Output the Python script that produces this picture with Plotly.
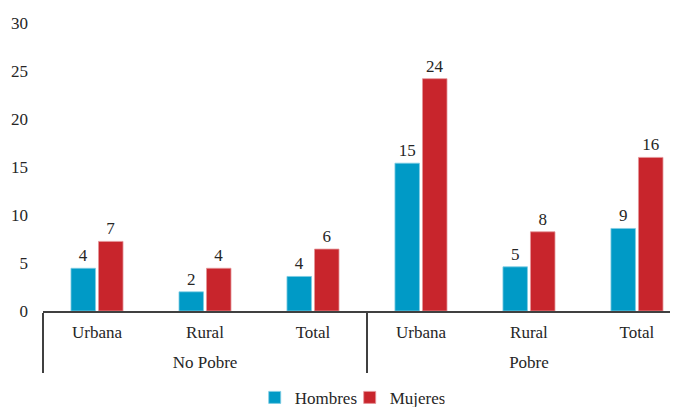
import plotly.graph_objects as go

groups = ["No Pobre", "No Pobre", "No Pobre", "Pobre", "Pobre", "Pobre"]
areas = ["Urbana", "Rural", "Total", "Urbana", "Rural", "Total"]

hombres = [4.45, 2.0, 3.6, 15.4, 4.6, 8.6]
mujeres = [7.25, 4.45, 6.45, 24.2, 8.25, 16.0]

hombres_labels = ["4", "2", "4", "15", "5", "9"]
mujeres_labels = ["7", "4", "6", "24", "8", "16"]

FONT = "Liberation Serif, Times New Roman, serif"

# raised blank line under the area labels so the group row sits a bit lower
area_ticks = [a + "<br><sup>&nbsp;</sup>" for a in areas]

fig = go.Figure()

fig.add_bar(
    x=[groups, area_ticks],
    y=hombres,
    name="Hombres",
    text=hombres_labels,
    textposition="outside",
    marker=dict(color="#009AC6", line=dict(color="#7fcde3", width=0.8)),
)
fig.add_bar(
    x=[groups, area_ticks],
    y=mujeres,
    name="Mujeres",
    text=mujeres_labels,
    textposition="outside",
    marker=dict(color="#C8252C", line=dict(color="#e59599", width=0.8)),
)

fig.update_traces(cliponaxis=False, textfont=dict(size=17, color="#262626"))

fig.update_xaxes(
    type="multicategory",
    range=[-0.5, 5.38],
    showline=True,
    linecolor="#404040",
    linewidth=1.5,
    showdividers=True,
    dividercolor="#404040",
    dividerwidth=1.5,
    ticks="",
    tickfont=dict(size=17, color="#262626"),
    ticklabelstandoff=5,
    showgrid=False,
    automargin=False,
)
fig.update_yaxes(
    range=[0, 30],
    dtick=5,
    showgrid=False,
    zeroline=False,
    showline=False,
    tickfont=dict(size=17, color="#262626"),
    ticklabelstandoff=14,
    automargin=False,
)

# page body has an 8px margin, so the figure is 8px smaller than the window
fig.update_layout(
    width=670,
    height=399,
    margin=dict(l=35, r=0, t=15, b=96, autoexpand=False),
    plot_bgcolor="white",
    paper_bgcolor="white",
    font=dict(family=FONT, size=17, color="#262626"),
    barmode="group",
    bargap=0.49,
    bargroupgap=0.11,
    showlegend=True,
    legend=dict(
        orientation="h",
        x=0.483,
        xanchor="center",
        y=-0.239,
        yanchor="top",
        font=dict(size=17),
        itemwidth=30,
        entrywidth=50,
        tracegroupgap=0,
    ),
)

fig.write_html("out.html")
